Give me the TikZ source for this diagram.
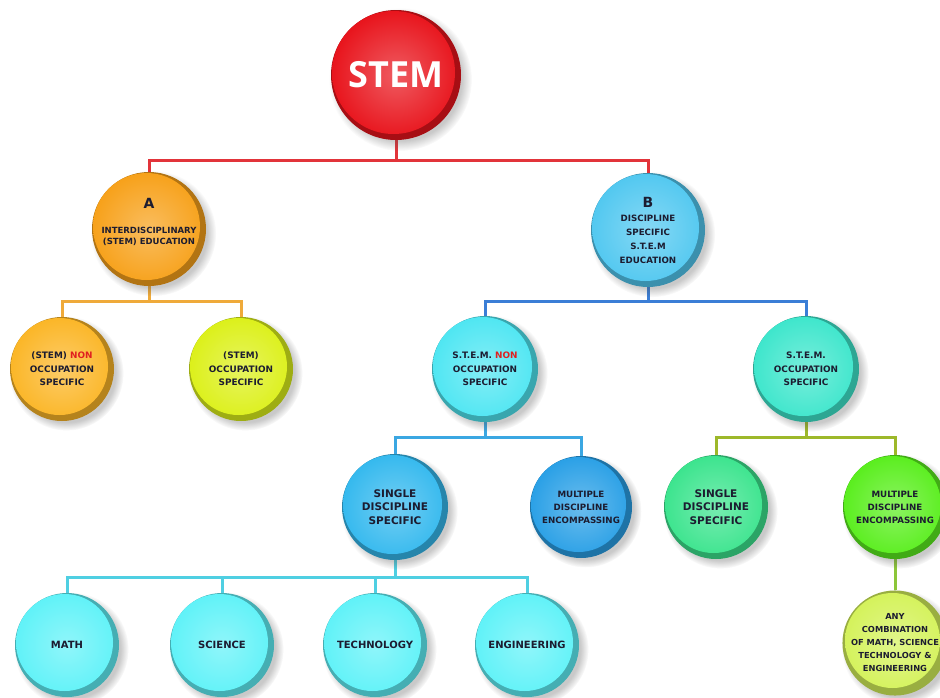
\documentclass[tikz,border=0pt]{standalone}
\usepackage{fontspec}
\setmainfont{DejaVu Sans}
\newfontfamily\rootfont{Open Sans}
\usetikzlibrary{shadows,backgrounds,calc}

% node colours
\definecolor{cStem}{HTML}{E8141C}
\definecolor{cA}{HTML}{F7A11A}
\definecolor{cB}{HTML}{52C8F0}
\definecolor{cNonA}{HTML}{FBB627}
\definecolor{cOccA}{HTML}{DCF01A}
\definecolor{cNonB}{HTML}{4FE6F2}
\definecolor{cOccB}{HTML}{3EE6CC}
\definecolor{cSingleB}{HTML}{35B9EE}
\definecolor{cMultiB}{HTML}{2AA0E6}
\definecolor{cSingleG}{HTML}{3CE48E}
\definecolor{cMultiG}{HTML}{5AEE1E}
\definecolor{cAny}{HTML}{D4F25A}
\definecolor{cSubj}{HTML}{60F2F8}
% connector colours
\definecolor{lRed}{HTML}{E2343A}
\definecolor{lOrange}{HTML}{EFAA3A}
\definecolor{lBlue}{HTML}{3B7ED6}
\definecolor{lSky}{HTML}{3BA7E2}
\definecolor{lOlive}{HTML}{9DB82A}
\definecolor{lCyan}{HTML}{4FCFE2}
\definecolor{lGreen}{HTML}{8CC63A}
% text colours
\definecolor{txt}{HTML}{1C1C30}
\definecolor{nonred}{HTML}{E02020}

\tikzset{
  ball/.style 2 args={circle, inner sep=0pt, minimum size={2*#2*1pt},
    fill=#1!72!black, align=center, text=txt,
    font=\bfseries\fontsize{8.9}{13.5}\selectfont,
    circular drop shadow={shadow xshift=4pt, shadow yshift=-4pt, opacity=0.3, fill=black!70},
    path picture={\shade[inner color=#1!70!white, outer color=#1]
       ($(path picture bounding box.center)+(-2.5,-2.5)$) circle[radius={(#2-3.5)*1pt}];}},
  labeltext/.style={align=center, text=txt, inner sep=0pt},
  singletext/.style={font=\bfseries\fontsize{10.5}{13.5}\selectfont},
  multitext/.style={font=\bfseries\fontsize{8.7}{13}\selectfont},
  subjtext/.style={font=\bfseries\fontsize{10}{12}\selectfont},
  conn/.style={line width=3pt, draw=#1},
}

\begin{document}
\begin{tikzpicture}[x=1pt,y=-1pt]
\useasboundingbox (0,0) rectangle (940,697);
\clip (0,0) rectangle (940,697);

% bus levels
\coordinate (bus1) at (0,160);
\coordinate (bus2) at (0,301);
\coordinate (bus3) at (0,437);
\coordinate (bus4) at (0,577);

% root
\node[ball={cStem}{65}, text=white, font=\rootfont\bfseries\fontsize{36}{40}\selectfont] (stem) at (396,75) {STEM};

% level 1
\node[ball={cA}{57}] (a) at (149,229) {};
\node[labeltext, font=\bfseries\fontsize{8.5}{11.5}\selectfont] (aLabel) at (149,222)
  {{\fontsize{14}{14}\selectfont A}\\[13pt]INTERDISCIPLINARY\\(STEM) EDUCATION};
\node[ball={cB}{57}, font=\bfseries\fontsize{8.7}{14}\selectfont] (b) at (648,230)
  {{\fontsize{14}{14}\selectfont B}\\DISCIPLINE\\SPECIFIC\\S.T.E.M\\EDUCATION};

% level 2
\node[ball={cNonA}{52}] (nonA) at (62,369) {(STEM) {\color{nonred}NON}\\OCCUPATION\\SPECIFIC};
\node[ball={cOccA}{52}] (occA) at (241,369) {(STEM)\\OCCUPATION\\SPECIFIC};
\node[ball={cNonB}{53}] (nonB) at (485,369) {S.T.E.M. {\color{nonred}NON}\\OCCUPATION\\SPECIFIC};
\node[ball={cOccB}{53}] (occB) at (806,369) {S.T.E.M.\\OCCUPATION\\SPECIFIC};

% level 3
\node[ball={cSingleB}{53}, singletext] (singleB) at (395,507) {SINGLE\\DISCIPLINE\\SPECIFIC};
\node[ball={cMultiB}{51}, multitext] (multiB) at (581,507) {MULTIPLE\\DISCIPLINE\\ENCOMPASSING};
\node[ball={cSingleG}{52}, singletext] (singleG) at (716,507) {SINGLE\\DISCIPLINE\\SPECIFIC};
\node[ball={cMultiG}{52}, multitext] (multiG) at (895,507) {MULTIPLE\\DISCIPLINE\\ENCOMPASSING};

% level 4
\node[ball={cSubj}{52}, subjtext] (math) at (67,645) {MATH};
\node[ball={cSubj}{52}, subjtext] (sci) at (222,645) {SCIENCE};
\node[ball={cSubj}{52}, subjtext] (tech) at (375,645) {TECHNOLOGY};
\node[ball={cSubj}{52}, subjtext] (eng) at (527,645) {ENGINEERING};
\node[ball={cAny}{51}, font=\bfseries\fontsize{8.3}{13}\selectfont] (any) at (895,643)
  {ANY\\COMBINATION\\OF MATH, SCIENCE\\TECHNOLOGY \&\\ENGINEERING};

% connectors
\begin{pgfonlayer}{background}
\draw[conn=lRed] (stem.south) -- (stem.south |- bus1);
\draw[conn=lRed] (a.north) -- (a.north |- bus1) -| (b.north);

\draw[conn=lOrange] (a.south) -- (a.south |- bus2);
\draw[conn=lOrange] (nonA.north) -- (nonA.north |- bus2) -| (occA.north);

\draw[conn=lBlue] (b.south) -- (b.south |- bus2);
\draw[conn=lBlue] (nonB.north) -- (nonB.north |- bus2) -| (occB.north);

\draw[conn=lSky] (nonB.south) -- (nonB.south |- bus3);
\draw[conn=lSky] (singleB.north) -- (singleB.north |- bus3) -| (multiB.north);

\draw[conn=lOlive] (occB.south) -- (occB.south |- bus3);
\draw[conn=lOlive] (singleG.north) -- (singleG.north |- bus3) -| (multiG.north);

\draw[conn=lGreen] (multiG.south) -- (any.north);

\draw[conn=lCyan] (singleB.south) -- (singleB.south |- bus4);
\draw[conn=lCyan] (math.north) -- (math.north |- bus4) -| (eng.north);
\draw[conn=lCyan] (sci.north) -- (sci.north |- bus4);
\draw[conn=lCyan] (tech.north) -- (tech.north |- bus4);
\end{pgfonlayer}
\end{tikzpicture}
\end{document}
